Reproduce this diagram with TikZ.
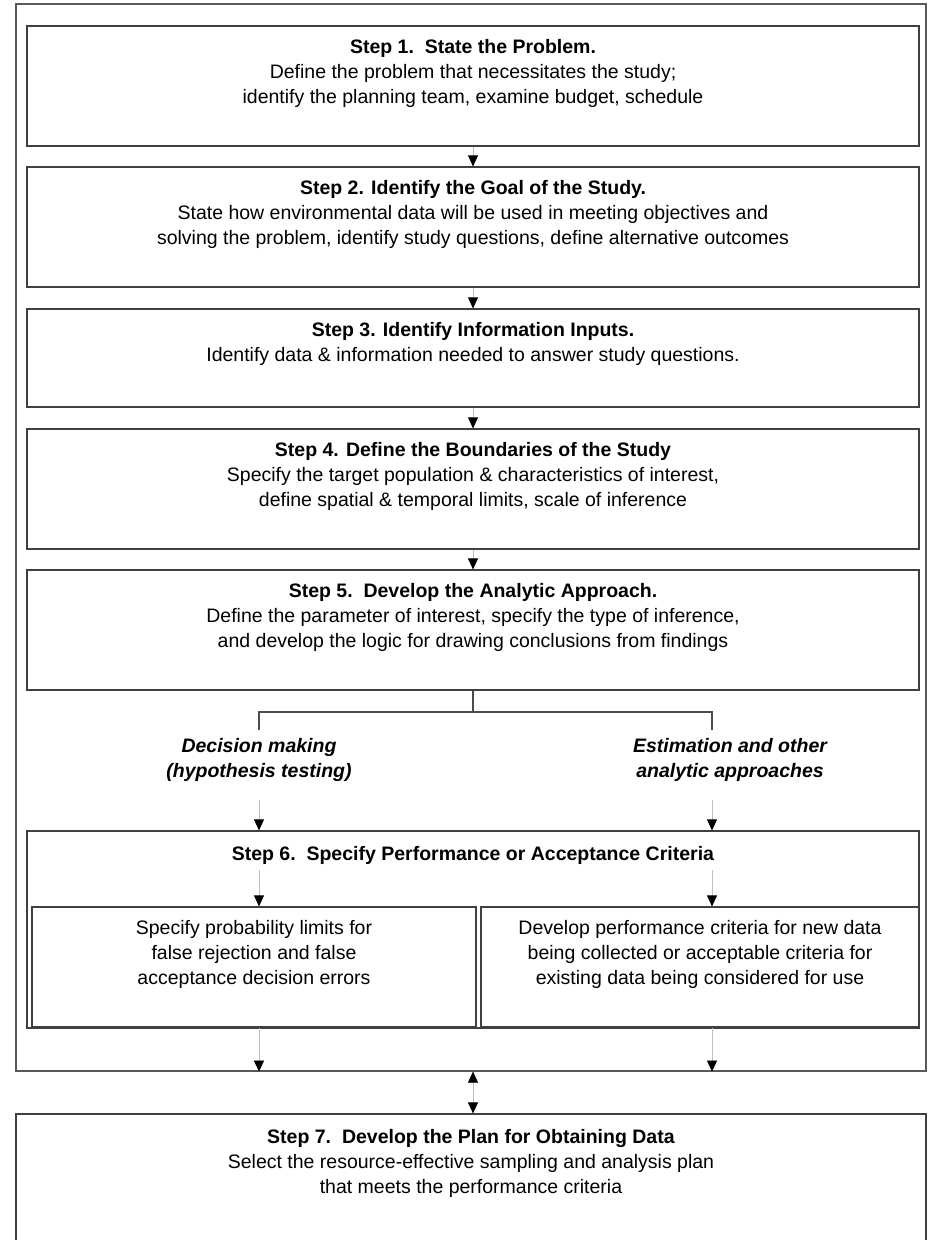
\documentclass[tikz,border=0pt]{standalone}
\usepackage{fontspec}
\setmainfont{Liberation Sans}
\usetikzlibrary{arrows.meta, positioning}

\begin{document}
\begin{tikzpicture}[
    x=1pt, y=-1pt,
    every node/.style={font=\fontsize{19.5}{25}\selectfont},
    stepbox/.style={rectangle, draw=black!75, line width=1.2pt, minimum width=892pt},
    subbox/.style={rectangle, draw=black!75, line width=1.2pt, minimum height=120pt},
    framebox/.style={rectangle, draw=black!65, line width=1.2pt, minimum width=910pt},
    steptext/.style={align=center, inner sep=0pt},
    branchtext/.style={align=center, inner sep=0pt, font=\fontsize{19.5}{25}\selectfont\bfseries\itshape},
    branch/.style={draw=black!70, line width=1.2pt},
    arrow/.style={-{Triangle[length=11pt, width=10pt, black]}, draw=black!25, line width=0.7pt},
    twoway/.style={{Triangle[length=11pt, width=10pt, black]}-{Triangle[length=11pt, width=10pt, black]}, draw=black!25, line width=0.7pt}
]
\clip (0,0) rectangle (931,1240);

% outer frame round steps 1 to 6
\node[framebox, minimum height=1067pt] (frame) at (471,537.5) {};

\node[stepbox, minimum height=120pt] (s1) at (473,86) {};
\node[steptext, below=14pt of s1.north] (t1) {\textbf{Step 1.\ \ State the Problem.}\\Define the problem that necessitates the study;\\identify the planning team, examine budget, schedule};

\node[stepbox, minimum height=120pt] (s2) at (473,227) {};
\node[steptext, below=14pt of s2.north] (t2) {\textbf{Step 2. Identify the Goal of the Study.}\\State how environmental data will be used in meeting objectives and\\solving the problem, identify study questions, define alternative outcomes};

\node[stepbox, minimum height=98pt] (s3) at (473,358) {};
\node[steptext, below=14pt of s3.north] (t3) {\textbf{Step 3. Identify Information Inputs.}\\Identify data \& information needed to answer study questions.};

\node[stepbox, minimum height=120pt] (s4) at (473,489) {};
\node[steptext, below=14pt of s4.north] (t4) {\textbf{Step 4. Define the Boundaries of the Study}\\Specify the target population \& characteristics of interest,\\define spatial \& temporal limits, scale of inference};

\node[stepbox, minimum height=120pt] (s5) at (473,630) {};
\node[steptext, below=14pt of s5.north] (t5) {\textbf{Step 5.\ \ Develop the Analytic Approach.}\\Define the parameter of interest, specify the type of inference,\\and develop the logic for drawing conclusions from findings};

\draw[arrow] (s1) -- (s2);
\draw[arrow] (s2) -- (s3);
\draw[arrow] (s3) -- (s4);
\draw[arrow] (s4) -- (s5);

% the two ways out of step 5
\coordinate (fork) at (473,712);
\coordinate (dmtop) at (259,730);
\coordinate (esttop) at (712,730);
\draw[branch] (s5.south) -- (fork);
\draw[branch] (dmtop) |- (fork) -| (esttop);

\node[branchtext] (dm) at (259,760) {Decision making\\(hypothesis testing)};
\node[branchtext] (est) at (730,760) {Estimation and other\\analytic approaches};

% step 6 with its two parts
\node[stepbox, minimum height=197pt] (s6) at (473,929.5) {};
\node[steptext, below=16pt of s6.north] (t6) {\textbf{Step 6.\ \ Specify Performance or Acceptance Criteria}};

\node[subbox, minimum width=444pt] (dec) at (254,967) {};
\node[steptext, below=14pt of dec.north] (tdec) {Specify probability limits for\\false rejection and false\\acceptance decision errors};
\node[subbox, minimum width=438pt] (estim) at (700,967) {};
\node[steptext, below=14pt of estim.north] (testim) {Develop performance criteria for new data\\being collected or acceptable criteria for\\existing data being considered for use};

\coordinate (dmfoot) at (259,800);
\coordinate (estfoot) at (712,800);
\coordinate (dmsplit) at (259,870);
\coordinate (estsplit) at (712,870);
\draw[arrow] (dmfoot) -- (dmfoot |- s6.north);
\draw[arrow] (estfoot) -- (estfoot |- s6.north);
\draw[arrow] (dmsplit) -- (dmsplit |- dec.north);
\draw[arrow] (estsplit) -- (estsplit |- estim.north);
\draw[arrow] (dmsplit |- dec.south) -- (dmsplit |- frame.south);
\draw[arrow] (estsplit |- estim.south) -- (estsplit |- frame.south);

% step 7, below the frame
\node[framebox, draw=black!75, minimum height=170pt] (s7) at (471,1199) {};
\node[steptext, below=16pt of s7.north] (t7) {\textbf{Step 7.\ \ Develop the Plan for Obtaining Data}\\Select the resource-effective sampling and analysis plan\\that meets the performance criteria};

\draw[twoway] (s1.south |- frame.south) -- (s1.south |- s7.north);
\end{tikzpicture}
\end{document}
